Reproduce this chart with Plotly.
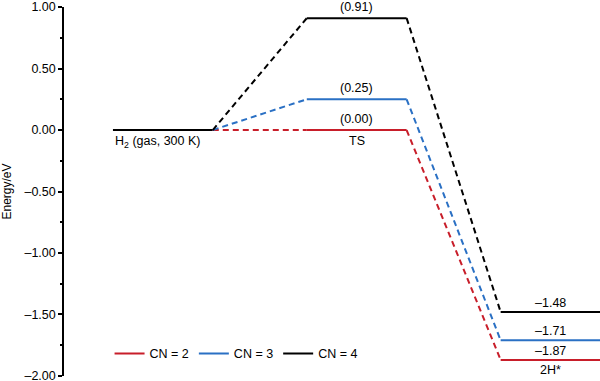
import plotly.graph_objects as go

# ---- data ----
stages = ["H<sub>2</sub> (gas, 300 K)", "TS", "2H*"]
stage_pos = [1, 3, 5]
cn_labels = ["CN = 2", "CN = 3", "CN = 4"]
initial_energy = 0.00
ts_energy = [0.00, 0.25, 0.91]
final_energy = [-1.87, -1.71, -1.48]
colors = ["#c81e2a", "#2a70c4", "#000000"]
y_ticks = [1.00, 0.50, 0.00, -0.50, -1.00, -1.50, -2.00]

HW = 0.515  # half width of level bars (x units)
FONT = "Liberation Sans, Arial, sans-serif"


def fmt(v):
    s = f"{v:.2f}"
    return s.replace("-", "\u2013")


fig = go.Figure()

# initial level (shared, black)
fig.add_trace(go.Scatter(
    x=[stage_pos[0] - HW, stage_pos[0] + HW], y=[initial_energy, initial_energy],
    mode="lines", line=dict(color="black", width=2), showlegend=False, hoverinfo="skip"))

# dashed connectors (drawn under solid levels)
for i in range(len(cn_labels)):
    xs = [stage_pos[0] + HW, stage_pos[1] - HW, None, stage_pos[1] + HW, stage_pos[2] - HW]
    ys = [initial_energy, ts_energy[i], None, ts_energy[i], final_energy[i]]
    fig.add_trace(go.Scatter(x=xs, y=ys, mode="lines",
                             line=dict(color=colors[i], width=2, dash="6px,4px"),
                             showlegend=False, hoverinfo="skip"))

# solid levels
for i in range(len(cn_labels)):
    xs = [stage_pos[1] - HW, stage_pos[1] + HW, None, stage_pos[2] - HW, stage_pos[2] + HW]
    ys = [ts_energy[i], ts_energy[i], None, final_energy[i], final_energy[i]]
    fig.add_trace(go.Scatter(x=xs, y=ys, mode="lines", name=cn_labels[i],
                             line=dict(color=colors[i], width=2)))

FS = 12.5
ann = []
for i in range(len(cn_labels)):
    ann.append(dict(x=stage_pos[1], y=ts_energy[i], text=f"({ts_energy[i]:.2f})",
                    showarrow=False, yanchor="bottom", yshift=2,
                    font=dict(size=FS, color="black", family=FONT)))
    ann.append(dict(x=stage_pos[2], y=final_energy[i], text=fmt(final_energy[i]),
                    showarrow=False, yanchor="bottom", yshift=0,
                    font=dict(size=FS, color="black", family=FONT)))
# stage names
ann.append(dict(x=stage_pos[0] - HW, y=initial_energy, text=stages[0], showarrow=False,
                xanchor="left", yanchor="top", yshift=-2,
                font=dict(size=FS, color="black", family=FONT)))
ann.append(dict(x=stage_pos[1], y=min(ts_energy), text=stages[1], showarrow=False,
                yanchor="top", yshift=-2, font=dict(size=FS, color="black", family=FONT)))
ann.append(dict(x=stage_pos[2], y=min(final_energy), text=stages[2], showarrow=False,
                yanchor="top", yshift=-1, font=dict(size=FS, color="black", family=FONT)))

fig.update_layout(
    width=600, height=381,
    margin=dict(l=64, r=0, t=7, b=5, autoexpand=False),
    plot_bgcolor="white", paper_bgcolor="white",
    font=dict(family=FONT, size=12, color="black"),
    annotations=ann,
    showlegend=True,
    legend=dict(orientation="h", x=0.085, y=0.06, xanchor="left", yanchor="middle",
                bgcolor="rgba(0,0,0,0)", font=dict(size=FS, family=FONT),
                itemwidth=30, tracegroupgap=0),
    xaxis=dict(visible=False, range=[-0.02, 5.51]),
    yaxis=dict(range=[-2.0005, 1.0005], tickvals=y_ticks, automargin=False,
               ticktext=[fmt(v) for v in y_ticks], ticklabeloverflow="allow",
               showgrid=False, zeroline=False, showline=True, linecolor="black", linewidth=1.5,
               ticks="outside", ticklen=4, tickwidth=1.5, tickcolor="black",
               tickfont=dict(size=12.5, family=FONT, color="black"),
               minor=dict(ticks="outside", ticklen=2, tickwidth=1.5, tickcolor="black", dtick=0.25),
               title=dict(text="Energy/eV", font=dict(size=12, family=FONT), standoff=14)),
)

# remove the browser's default 8px page margin so the figure fills the window exactly
fig.write_html("out.html", post_script="document.body.style.margin='0';",
               config={"displayModeBar": False})
